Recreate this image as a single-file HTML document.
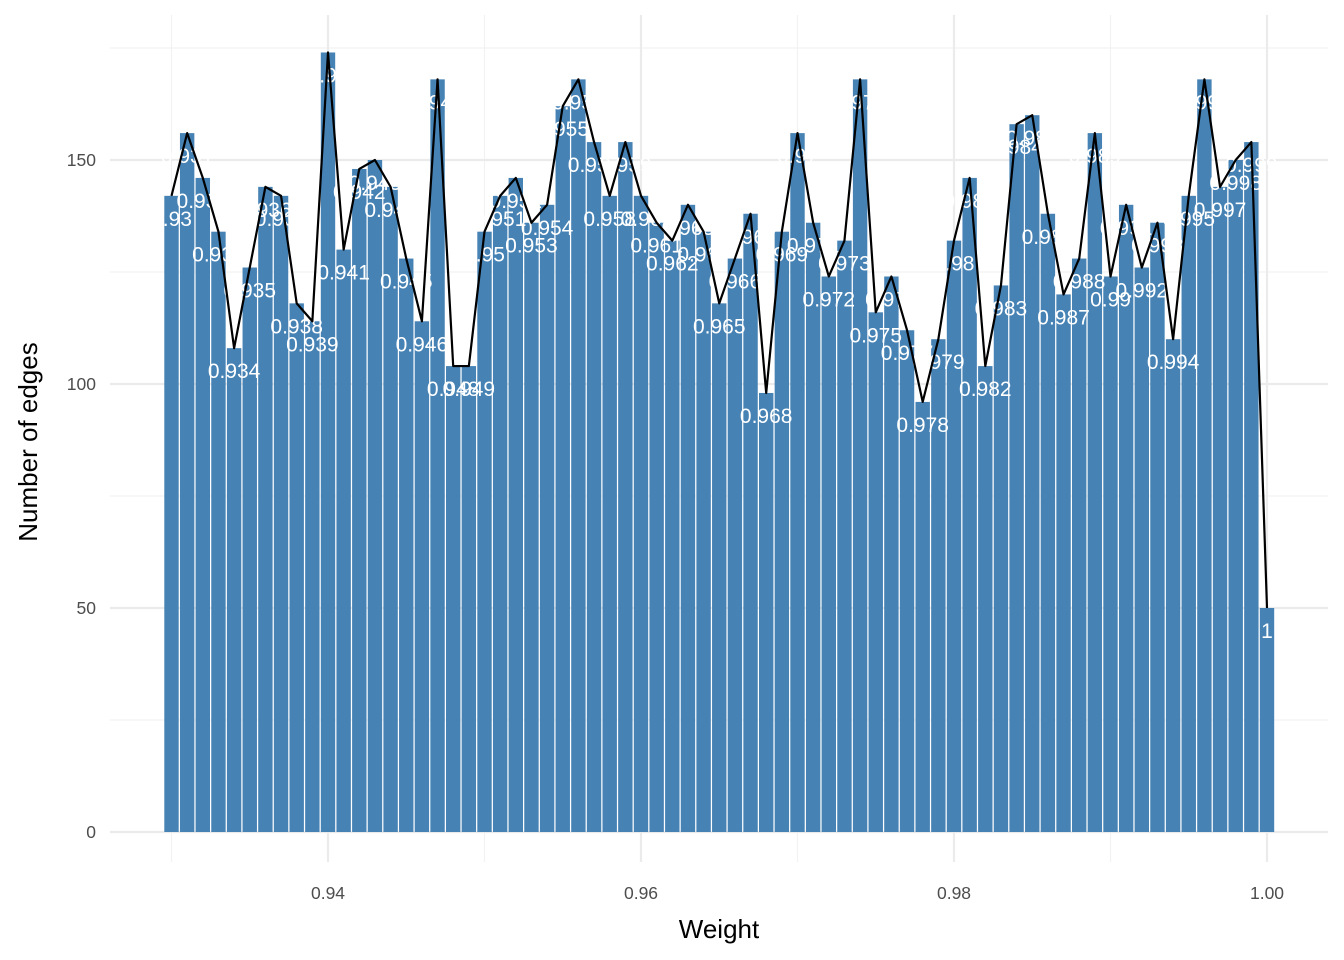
<!DOCTYPE html>
<html><head><meta charset="utf-8"><style>body{margin:0;background:#fff}svg{display:block;font-family:"Liberation Sans","DejaVu Sans",sans-serif}</style></head>
<body>
<svg id="chart" width="1344" height="960" xmlns="http://www.w3.org/2000/svg">
<g id="grid"></g>
<g id="bars"></g>
<g id="labels"></g>
<g id="line"></g>
<g id="axes"></g>
<text x="719" y="938" font-size="26" text-anchor="middle" fill="#000">Weight</text>
<text transform="translate(37,442) rotate(-90)" font-size="26" text-anchor="middle" fill="#000">Number of edges</text>
</svg>
<script>
const weights = [];
for (let i = 0; i <= 70; i++) weights.push(Math.round((0.93 + i*0.001)*1000)/1000);
const counts = [142,156,146,134,108,126,144,142,118,114,174,130,148,150,144,128,114,168,104,104,134,142,146,136,140,162,168,154,142,154,142,136,132,140,134,118,128,138,98,134,156,136,124,132,168,116,124,112,96,110,132,146,104,122,158,160,138,120,128,156,124,140,126,136,110,142,168,144,150,154,50];
const yTicks = [0,50,100,150];
const yMinor = [25,75,125,175];
const xTicks = [0.94,0.96,0.98,1.00];
const xTickLabels = ["0.94","0.96","0.98","1.00"];
const xMinor = [0.93,0.95,0.97,0.99];

const NS="http://www.w3.org/2000/svg";
const X = v => 171.5 + (v-0.93)/0.001*15.65;
const Y = v => 832 - v*4.48;
const bw = 14.4;
function mk(tag, attrs, parent){const e=document.createElementNS(NS,tag);for(const k in attrs)e.setAttribute(k,attrs[k]);parent.appendChild(e);return e;}
const grid=document.getElementById('grid'), bars=document.getElementById('bars'), labels=document.getElementById('labels'), line=document.getElementById('line'), axes=document.getElementById('axes');
const L=110,R=1328,T=15,B=862;
yMinor.forEach(v=>{const e=mk('line',{x1:L,x2:R,y1:Y(v),y2:Y(v),stroke:'#f2f2f2','stroke-width':1.2},grid);});
xMinor.forEach(v=>{const e=mk('line',{x1:X(v),x2:X(v),y1:T,y2:B,stroke:'#f2f2f2','stroke-width':1.2},grid);});
yTicks.forEach(v=>{const e=mk('line',{x1:L,x2:R,y1:Y(v),y2:Y(v),stroke:'#ebebeb','stroke-width':2.2},grid);
 const t=mk('text',{x:96,y:Y(v)+6,'font-size':17.5,'text-anchor':'end',fill:'#4d4d4d'},axes);t.textContent=v;});
xTicks.forEach((v,i)=>{const e=mk('line',{x1:X(v),x2:X(v),y1:T,y2:B,stroke:'#ebebeb','stroke-width':2.2},grid);
 const t=mk('text',{x:X(v),y:899,'font-size':17.5,'text-anchor':'middle',fill:'#4d4d4d'},axes);t.textContent=xTickLabels[i];});
weights.forEach((w,i)=>{const e=mk('rect',{x:X(w)-bw/2,y:Y(counts[i]),width:bw,height:Y(0)-Y(counts[i]),fill:'#4682b4'},bars);});
weights.forEach((w,i)=>{const t=mk('text',{x:X(w),y:Y(counts[i])+30,'font-size':21,'text-anchor':'middle',fill:'#fff'},labels);t.textContent=String(w);});
const pts=weights.map((w,i)=>X(w)+','+Y(counts[i])).join(' ');
const pl=mk('polyline',{points:pts,fill:'none',stroke:'#000','stroke-width':2.2,'stroke-linejoin':'round'},line);


</script>
</body></html>
